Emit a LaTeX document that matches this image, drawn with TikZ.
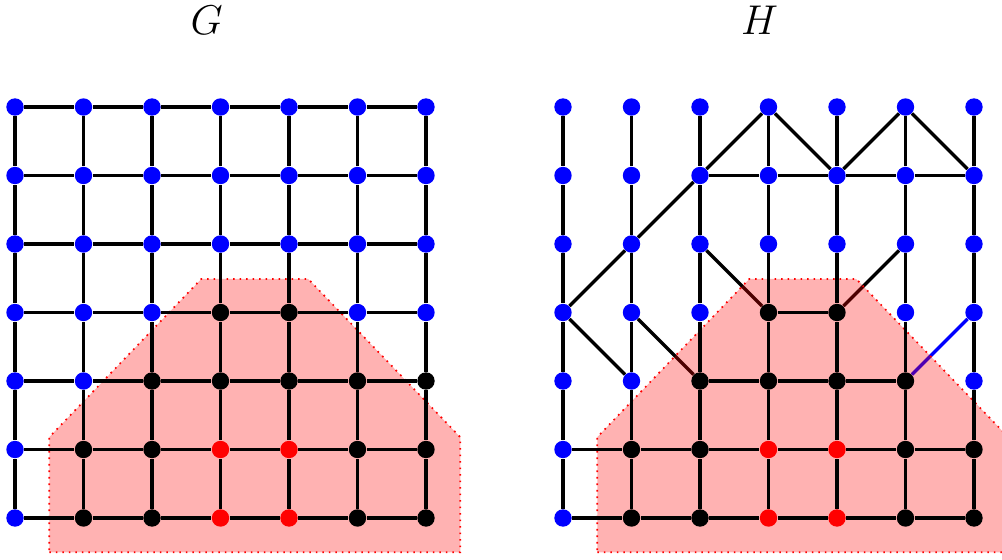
\documentclass[tikz,border=0pt]{standalone}
\pgfdeclarelayer{diag}
\pgfdeclarelayer{shade}
\pgfdeclarelayer{grid}
\pgfsetlayers{diag,shade,grid,main}
\begin{document}
\begin{tikzpicture}[x=1cm,y=1cm,
  v/.style={circle,inner sep=0pt,minimum size=0.254cm},
  vb/.style={v,fill=blue},
  vk/.style={v,fill=black},
  vr/.style={v,fill=red},
  edge/.style={line width=1.4pt,black},
  bedge/.style={line width=1.4pt,blue},
  region/.style={fill=red,fill opacity=0.3,draw=red,dotted,line width=0.7pt},
  title/.style={font=\fontsize{18}{20}\selectfont}]
\useasboundingbox (-0.219,-0.599) rectangle (14.409,7.562);

% titles
\node[title] (tg) at (2.8,7.27) {$G$};
\node[title] (th) at (10.87,7.27) {$H$};

% ---------- vertices ----------
\foreach \g/\o in {g/0,h/8}{
  \foreach \i in {0,...,6}{
    \foreach \j in {4,5,6}{ \node[vb] (\g-\i-\j) at (\i+\o,\j) {}; }
  }
  \foreach \i in {0,1,2,5,6}{ \node[vb] (\g-\i-3) at (\i+\o,3) {}; }
  \foreach \i in {3,4}{ \node[vk] (\g-\i-3) at (\i+\o,3) {}; }
  \foreach \i in {0,1}{ \node[vb] (\g-\i-2) at (\i+\o,2) {}; }
  \foreach \i in {2,3,4,5}{ \node[vk] (\g-\i-2) at (\i+\o,2) {}; }
  \foreach \j in {0,1}{
    \node[vb] (\g-0-\j) at (\o,\j) {};
    \foreach \i in {1,2,5,6}{ \node[vk] (\g-\i-\j) at (\i+\o,\j) {}; }
    \foreach \i in {3,4}{ \node[vr] (\g-\i-\j) at (\i+\o,\j) {}; }
  }
}
\node[vk] (g-6-2) at (6,2) {};
\node[vb] (h-6-2) at (14,2) {};

% ---------- G edges ----------
\begin{pgfonlayer}{grid}
\foreach \i in {0,...,6}{
  \foreach \j [evaluate=\j as \jj using int(\j+1)] in {0,...,5}{
    \draw[edge] (g-\i-\j) -- (g-\i-\jj);
    \draw[edge] (g-\j-\i) -- (g-\jj-\i);
  }
}
% ---------- H grid edges ----------
\foreach \i in {0,...,6}{
  \foreach \j [evaluate=\j as \jj using int(\j+1)] in {0,...,5}{
    \draw[edge] (h-\i-\j) -- (h-\i-\jj);
  }
}
\foreach \j in {0,1}{
  \foreach \i [evaluate=\i as \ii using int(\i+1)] in {0,...,5}{
    \draw[edge] (h-\i-\j) -- (h-\ii-\j);
  }
}
\draw[edge] (h-2-2) -- (h-3-2) -- (h-4-2) -- (h-5-2);
\draw[edge] (h-3-3) -- (h-4-3);
\draw[edge] (h-2-5) -- (h-3-5) -- (h-4-5) -- (h-5-5) -- (h-6-5);
\end{pgfonlayer}

% ---------- H diagonal edges ----------
\begin{pgfonlayer}{diag}
\draw[edge] (h-3-6) -- (h-2-5);
\draw[edge] (h-2-5) -- (h-1-4);
\draw[edge] (h-1-4) -- (h-0-3);
\draw[edge] (h-3-6) -- (h-4-5);
\draw[edge] (h-4-5) -- (h-5-6);
\draw[edge] (h-5-6) -- (h-6-5);
\draw[edge] (h-2-4) -- (h-3-3);
\draw[edge] (h-5-4) -- (h-4-3);
\draw[edge] (h-0-3) -- (h-1-2);
\draw[edge] (h-1-3) -- (h-2-2);
\draw[bedge] (h-5-2) -- (h-6-3);
\end{pgfonlayer}

% ---------- shaded regions ----------
\begin{pgfonlayer}{shade}
\path[region] (0.5,-0.5) -- (6.5,-0.5) -- (6.5,1.18) -- (4.28,3.49) -- (2.72,3.49) -- (0.5,1.18) -- cycle;
\path[region] (8.5,-0.5) -- (14.5,-0.5) -- (14.5,1.18) -- (12.28,3.49) -- (10.72,3.49) -- (8.5,1.18) -- cycle;
\end{pgfonlayer}
\end{tikzpicture}
\end{document}
